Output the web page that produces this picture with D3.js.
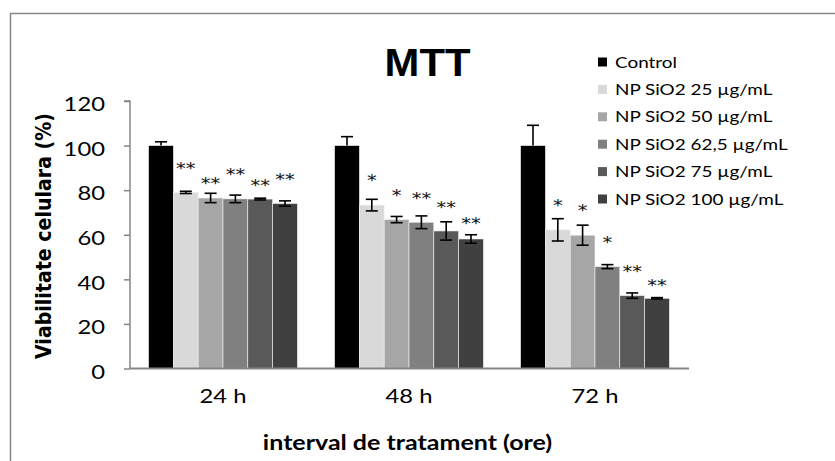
<!DOCTYPE html>
<meta charset="utf-8">
<style>
body { margin: 0; background: #fff; }
svg { display: block; }
.tick text { font-family: Lato, sans-serif; }
</style>
<body>
<script src="https://cdn.jsdelivr.net/npm/d3@7"></script>
<script>

// chart data
const categories = ["24 h", "48 h", "72 h"];
const seriesNames = ["Control", "NP SiO2 25 µg/mL", "NP SiO2 50 µg/mL", "NP SiO2 62,5 µg/mL", "NP SiO2 75 µg/mL", "NP SiO2 100 µg/mL"];
const seriesColors = ["#000000", "#d9d9d9", "#a6a6a6", "#808080", "#595959", "#404040"];

const control = [100, 100, 100];
const np25 = [79.0, 73.3, 62.2];
const np50 = [76.5, 66.8, 59.8];
const np625 = [76.1, 65.6, 45.7];
const np75 = [76.0, 61.7, 32.7];
const np100 = [74.0, 58.1, 31.5];

const errControl = [1.7, 4.0, 9.1];
const err25 = [0.5, 2.6, 5.0];
const err50 = [2.1, 1.4, 4.5];
const err625 = [1.7, 2.85, 0.9];
const err75 = [0.4, 4.1, 1.2];
const err100 = [1.2, 1.9, 0.3];

// significance marks and the value they sit at
const sig = [["", "", ""], ["**", "*", "*"], ["**", "*", "*"], ["**", "**", "*"], ["**", "**", "**"], ["**", "**", "**"]];
const sigAt = [[0, 0, 0], [91.7, 86.0, 75.1], [84.9, 79.6, 72.7], [88.7, 78.1, 58.4], [83.7, 74.0, 45.1], [86.7, 66.8, 39.2]];

const yTicks = [0, 20, 40, 60, 80, 100, 120];

const values = [control, np25, np50, np625, np75, np100];
const errors = [errControl, err25, err50, err625, err75, err100];

const rows = [];
seriesNames.forEach((s, i) => {
  categories.forEach((c, j) => {
    rows.push({series: s, si: i, cat: c, value: values[i][j], err: errors[i][j], mark: sig[i][j], markAt: sigAt[i][j]});
  });
});

const width = 835, height = 461;
const sx = 1.22; // the original picture is stretched sideways

const svg = d3.select("body").append("svg")
    .attr("width", width)
    .attr("height", height);

// outer frame
svg.append("rect")
    .attr("x", 10.5).attr("y", 13.5)
    .attr("width", 840).attr("height", 470)
    .attr("fill", "none")
    .attr("stroke", "#868686")
    .attr("stroke-width", 1.5);

const x0 = d3.scaleBand()
    .domain(categories)
    .range([130, 688])
    .paddingInner(0.2)
    .paddingOuter(0.1);

const x1 = d3.scaleBand()
    .domain(seriesNames)
    .range([0, x0.bandwidth()]);

const y = d3.scaleLinear()
    .domain([0, 120])
    .range([368.5, 101]);

const color = d3.scaleOrdinal().domain(seriesNames).range(seriesColors);

// bars
svg.append("g")
  .selectAll("rect")
  .data(rows)
  .join("rect")
    .attr("x", d => x0(d.cat) + x1(d.series))
    .attr("width", x1.bandwidth())
    .attr("y", d => y(d.value))
    .attr("height", d => y(0) - y(d.value))
    .attr("fill", d => color(d.series))
    .attr("stroke", "#f2f2f2")
    .attr("stroke-width", 0.6);

// error bars
const eb = svg.append("g")
    .attr("stroke", "#000")
    .attr("stroke-width", 1.6)
  .selectAll("g")
  .data(rows)
  .join("g")
    .attr("transform", d => `translate(${x0(d.cat) + x1(d.series) + x1.bandwidth() / 2},0)`);

eb.append("line")
    .attr("y1", d => y(d.value + d.err))
    .attr("y2", d => y(d.si === 0 ? d.value : d.value - d.err));
eb.append("line")
    .attr("x1", -6).attr("x2", 6)
    .attr("y1", d => y(d.value + d.err))
    .attr("y2", d => y(d.value + d.err));
eb.filter(d => d.si !== 0).append("line")
    .attr("x1", -6).attr("x2", 6)
    .attr("y1", d => y(d.value - d.err))
    .attr("y2", d => y(d.value - d.err));

// significance stars
svg.append("g")
    .attr("font-family", "DejaVu Sans, sans-serif")
    .attr("font-size", 16)
    .attr("fill", "#111")
    .attr("text-anchor", "middle")
  .selectAll("text")
  .data(rows.filter(d => d.mark))
  .join("text")
    .attr("transform", d => `translate(${x0(d.cat) + x1(d.series) + x1.bandwidth() / 2},${y(d.markAt) + 9.5}) scale(${sx},1)`)
    .text(d => d.mark);

// axes
const yAxis = svg.append("g")
    .attr("transform", "translate(130,0)")
    .call(d3.axisLeft(y).tickValues(yTicks).tickSize(6).tickPadding(19));
yAxis.selectAll("path, line").attr("stroke", "#868686").attr("stroke-width", 1.5);
yAxis.select(".domain").attr("d", "M-6,101H0V368.5");
yAxis.selectAll(".tick text")
    .attr("font-size", 19.5)
    .attr("fill", "#000")
    .attr("dy", "0.5em")
    .attr("x", -25 / sx)
    .attr("transform", `scale(${sx},1)`);

const xAxis = svg.append("g")
    .attr("transform", "translate(0,368.5)")
    .call(d3.axisBottom(x0).tickSize(0).tickPadding(20.5).tickSizeOuter(0));
xAxis.select(".domain").attr("stroke", "#868686").attr("stroke-width", 2).attr("d", "M130,0H689");
xAxis.selectAll(".tick text")
    .attr("font-size", 19.5)
    .attr("fill", "#000")
    .attr("transform", `scale(${sx},1)`);

// titles
svg.append("text")
    .attr("transform", `translate(427.5,76) scale(1.1,1)`)
    .attr("text-anchor", "middle")
    .attr("font-family", "Liberation Sans, Arial, sans-serif")
    .attr("font-weight", "bold")
    .attr("font-size", 38)
    .text("MTT");

svg.append("text")
    .attr("transform", `translate(407.5,450) scale(${sx},1)`)
    .attr("text-anchor", "middle")
    .attr("font-family", "Lato, sans-serif")
    .attr("font-weight", "bold")
    .attr("font-size", 20.5)
    .text("interval de tratament (ore)");

svg.append("text")
    .attr("transform", `translate(43,236) scale(1.15,1) rotate(-90)`)
    .attr("text-anchor", "middle")
    .attr("dy", "0.36em")
    .attr("font-family", "DejaVu Sans, sans-serif")
    .attr("font-weight", "bold")
    .attr("font-size", 19)
    .text("Viabilitate celulara (%)");

// legend
const legend = svg.append("g")
    .attr("font-family", "Lato, sans-serif")
    .attr("font-size", 15.5)
  .selectAll("g")
  .data(seriesNames)
  .join("g")
    .attr("transform", (d, i) => `translate(598,${62 + i * 27.4})`);

legend.append("rect")
    .attr("y", -4.5)
    .attr("width", 9).attr("height", 9)
    .attr("fill", d => color(d));

legend.append("text")
    .attr("transform", `translate(17,0) scale(${sx},1)`)
    .attr("dy", "0.36em")
    .text(d => d);

</script>
